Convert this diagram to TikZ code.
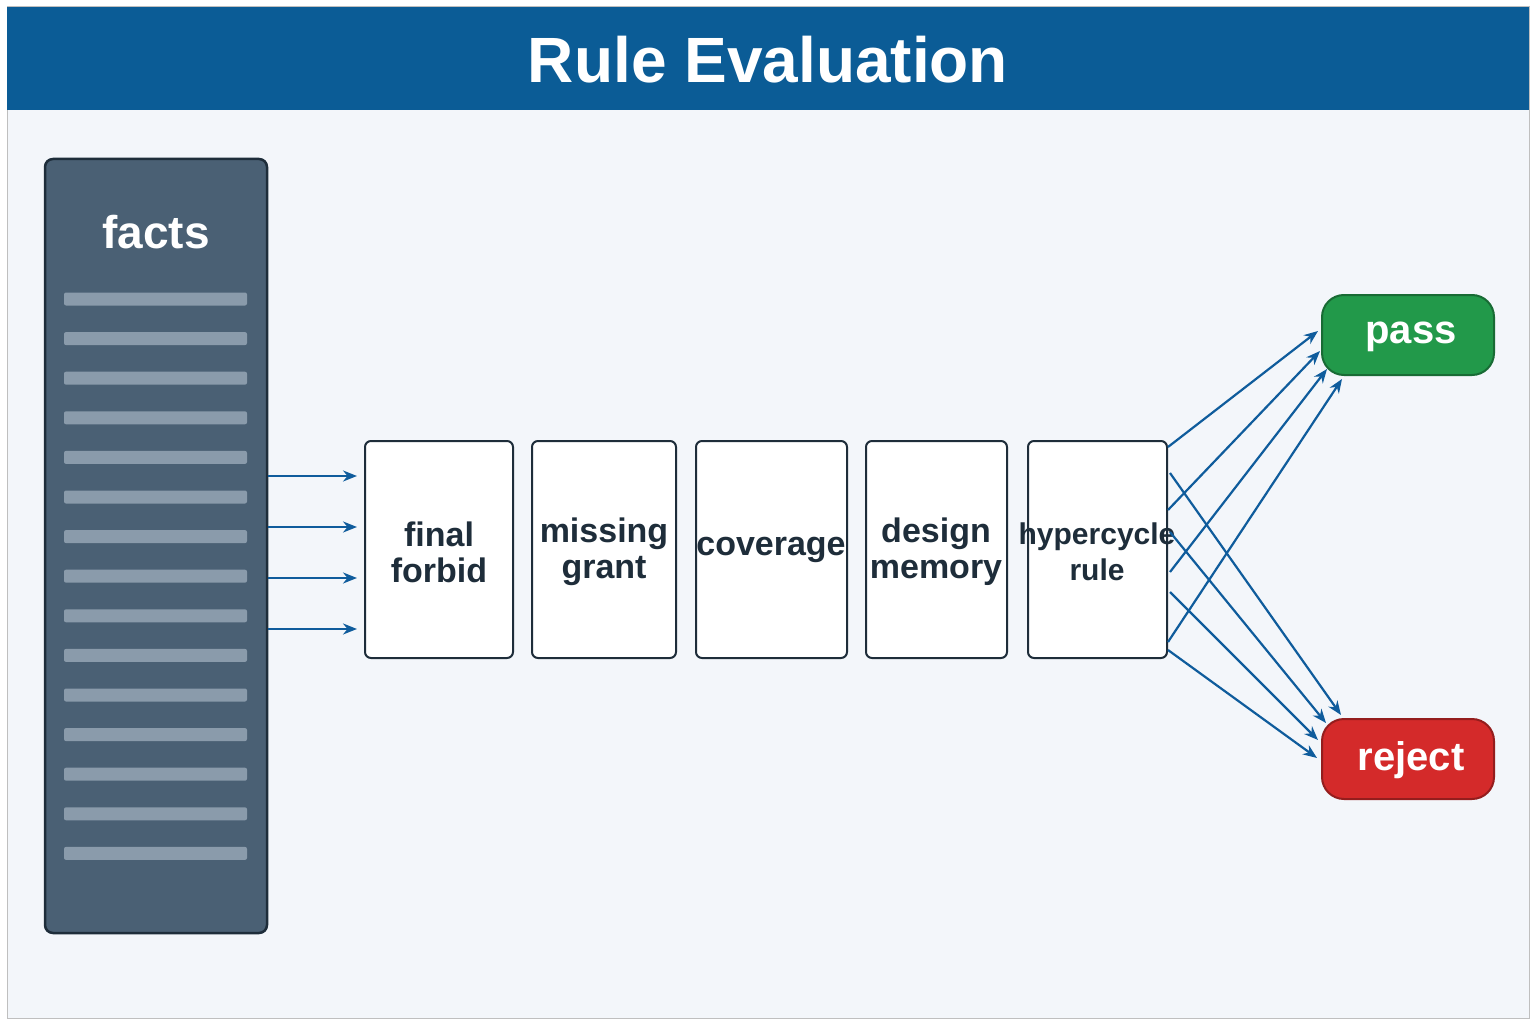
\documentclass[tikz,border=0pt]{standalone}
\usepackage{fontspec}
\setmainfont{Liberation Sans}
\usetikzlibrary{arrows.meta}
\definecolor{bg}{HTML}{F3F6FA}
\definecolor{titlebar}{HTML}{0B5C96}
\definecolor{panel}{HTML}{4A6074}
\definecolor{stripe}{HTML}{8A9BAB}
\definecolor{ink}{HTML}{1E2D3A}
\definecolor{arr}{HTML}{0F5C9C}
\definecolor{passc}{HTML}{22994A}
\definecolor{rejc}{HTML}{D42A2A}
\begin{document}
\begin{tikzpicture}[x=1pt,y=-1pt,
  box/.style={draw=ink,line width=2pt,fill=white,rounded corners=6pt},
  lbl/.style={font=\fontsize{34}{36}\selectfont\bfseries,text=ink,align=center},
  res/.style={line width=2pt,rounded corners=22pt,font=\fontsize{40}{44}\selectfont\bfseries,text=white},
  ar/.style={draw=arr,line width=2.2pt,-{Stealth[length=14pt,width=11pt]}}]
\useasboundingbox (0,0) rectangle (1536,1024);
\fill[white] (0,0) rectangle (1536,1024);
\draw[fill=bg,draw=black!25,line width=1pt] (7,7) rectangle (1529,1018);
\fill[titlebar] (7,7) rectangle (1529,110);
\node[font=\fontsize{64}{70}\selectfont\bfseries,text=white] (title) at (768,60) {Rule Evaluation};
% facts panel
\draw[fill=panel,draw=ink,line width=2.5pt,rounded corners=8pt] (45,159) rectangle (267,933);
\node[font=\fontsize{46}{50}\selectfont\bfseries,text=white] (facts) at (156,232) {facts};
\foreach \i in {0,...,14}{
  \fill[stripe,rounded corners=2pt] (64,{292.5+39.6*\i}) rectangle (247,{305.5+39.6*\i});
}
\coordinate (fe) at (268,476);
% boxes
\draw[box] (365,441) rectangle (513,658); \node[lbl] (b1) at (439,552) {final\\forbid};
\draw[box] (532,441) rectangle (676,658); \node[lbl] (b2) at (604,552) {missing\\grant};
\draw[box] (696,441) rectangle (847,658); \node[lbl] (b3) at (771,550) {coverage};
\draw[box] (866,441) rectangle (1007,658); \node[lbl] (b4) at (936,552) {design\\memory};
\draw[box] (1028,441) rectangle (1167,658); \node[lbl,font=\fontsize{30}{36}\selectfont\bfseries] (b5) at (1097,552) {hypercycle\\rule};
\foreach \y/\n in {476/a,527/b,578/c,629/d}{
  \coordinate (s\n) at (268,\y); \coordinate (t\n) at (357,\y);
  \draw[ar] (s\n) -- (t\n);
}
% results
\draw[res,fill=passc,draw=passc!70!black] (1322,295) rectangle (1494,375);
\node[res,draw=none] (pass) at (1411,337) {pass};
\draw[res,fill=rejc,draw=rejc!70!black] (1322,719) rectangle (1494,799);
\node[res,draw=none] (reject) at (1411,760) {reject};
% fan arrows
\coordinate (p1s) at (1168,447); \coordinate (p1e) at (1318,331);
\coordinate (p2s) at (1168,510); \coordinate (p2e) at (1320,351);
\coordinate (p3s) at (1170,572); \coordinate (p3e) at (1327,369);
\coordinate (p4s) at (1168,642); \coordinate (p4e) at (1342,379);
\coordinate (r1s) at (1170,473); \coordinate (r1e) at (1341,715);
\coordinate (r2s) at (1170,532); \coordinate (r2e) at (1326,723);
\coordinate (r3s) at (1170,592); \coordinate (r3e) at (1318,740);
\coordinate (r4s) at (1168,650); \coordinate (r4e) at (1317,758);
\foreach \k in {p1,p2,p3,p4,r1,r2,r3,r4}{ \draw[ar] (\k s) -- (\k e); }
\end{tikzpicture}
\end{document}
